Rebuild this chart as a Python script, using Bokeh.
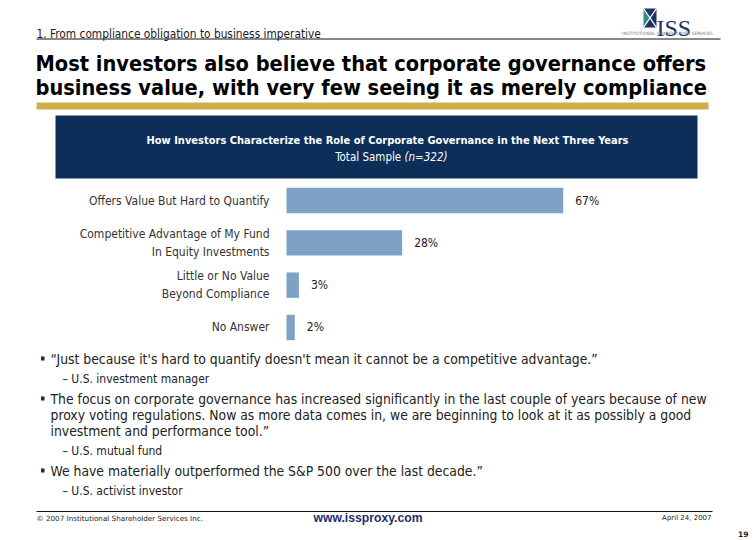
from bokeh.plotting import figure
from bokeh.models import Range1d, ColumnDataSource, Label
from bokeh.core.properties import value
from bokeh.embed import file_html
from bokeh.resources import INLINE

# ---------------- data ----------------
categories = [
    "Offers Value But Hard to Quantify",
    "Competitive Advantage of My Fund\nIn Equity Investments",
    "Little or No Value\nBeyond Compliance",
    "No Answer",
]
shares = [67, 28, 3, 2]
share_labels = ["67%", "28%", "3%", "2%"]

section_title = "1. From compliance obligation to business imperative"
headline = ["Most investors also believe that corporate governance offers",
            "business value, with very few seeing it as merely compliance"]
chart_title = "How Investors Characterize the Role of Corporate Governance in the Next Three Years"
sample_text = "Total Sample "
sample_n = "(n=322)"

quotes = [
    ["\u201cJust because it's hard to quantify doesn't mean it cannot be a competitive advantage.\u201d"],
    ["The focus on corporate governance has increased significantly in the last couple of years because of new",
     "proxy voting regulations. Now as more data comes in, we are beginning to look at it as possibly a good",
     "investment and performance tool.\u201d"],
    ["We have materially outperformed the S&P 500 over the last decade.\u201d"],
]
sources = ["\u2013 U.S. investment manager", "\u2013 U.S. mutual fund", "\u2013 U.S. activist investor"]

footer_left = "\u00a9 2007 Institutional Shareholder Services Inc."
footer_mid = "www.issproxy.com"
footer_right = "April 24, 2007"
page_no = "19"

# ---------------- style ----------------
NAVY = "#0c2e58"
BAR = "#7ea1c6"
GOLD = "#cdb04b"
TEAL = "#2f8c88"
LOGO = "#1d3466"
COND = "'DejaVu Sans Condensed', 'DejaVu Sans', sans-serif"

W, H = 750, 538
p = figure(width=W, height=H, x_range=Range1d(0, W), y_range=Range1d(H, 0),
           output_backend="svg", toolbar_location=None, min_border=0)
p.axis.visible = False
p.grid.visible = False
p.outline_line_color = None
p.background_fill_color = "white"

# scales for the bar chart
PX = 4.13      # pixels per percentage point
X0 = 286       # pixel position of 0%
ROW0, ROWSTEP = 200, 42.33
p.extra_x_ranges = {"pct": Range1d(start=-X0 / PX, end=(W - X0) / PX)}
p.extra_y_ranges = {"row": Range1d(start=(H - ROW0) / ROWSTEP, end=(0 - ROW0) / ROWSTEP)}

rows = list(range(len(categories)))
src = ColumnDataSource(dict(row=rows, share=shares, cat=categories, lab=share_labels))

# ---------- header of slide ----------
p.add_layout(Label(x=36, y=33, text=section_title, text_font=COND, text_font_size="11.8px",
                   text_color="#1a1a1a", text_baseline="alphabetic"))
p.segment(x0=36, y0=38.5, x1=720, y1=38.5, line_color="#111111", line_width=1)

for i, line in enumerate(headline):
    p.add_layout(Label(x=35, y=63 + 24 * i, text=line, text_font=COND, text_font_style="bold",
                       text_font_size="21.6px", text_color="#000000", text_baseline="alphabetic"))
p.quad(left=36, right=708, top=102, bottom=109, color=GOLD, line_color=None)

# logo
p.patches(xs=[[643, 656, 649.5], [643, 656, 649.5], [643, 643, 649.5], [656, 656, 649.5]],
          ys=[[8, 8, 17.5], [27, 27, 17.5], [8, 27, 17.5], [8, 27, 17.5]],
          fill_color=[LOGO, LOGO, TEAL, LOGO], line_color=None)
p.segment(x0=[643, 643], y0=[8, 27], x1=[656, 656], y1=[27, 8], line_color="white", line_width=1.3)
p.add_layout(Label(x=656, y=27, text="ISS", text_font="Liberation Serif", text_font_size="24px",
                   text_color=LOGO, text_baseline="alphabetic"))
p.add_layout(Label(x=667, y=33, text="INSTITUTIONAL SHAREHOLDER SERVICES", text_font="DejaVu Sans",
                   text_font_size="4.4px", text_color="#777777", text_align="center", text_baseline="middle"))

# ---------- chart ----------
p.quad(left=55, right=697, top=115, bottom=178, color=NAVY, line_color=None)
p.add_layout(Label(x=387, y=140, text=chart_title, text_font=COND, text_font_style="bold",
                   text_font_size="11px", text_color="white", text_align="center", text_baseline="middle"))
p.add_layout(Label(x=404, y=156, text=sample_text, text_font=COND,
                   text_font_size="11.5px", text_color="white", text_align="right", text_baseline="middle"))
p.add_layout(Label(x=404, y=156, text=sample_n, text_font=COND, text_font_style="italic",
                   text_font_size="11.5px", text_color="white", text_align="left", text_baseline="middle"))

p.hbar(y="row", left=0, right="share", height=0.6, source=src, x_range_name="pct", y_range_name="row",
       fill_color=BAR, line_color=None)
p.text(x="share", y="row", text="lab", source=src, x_range_name="pct", y_range_name="row",
       x_offset=12, text_font=value(COND), text_font_size="12px", text_color="#222222",
       text_baseline="middle", text_align="left")
p.text(x=269, y="row", text="cat", source=src, y_range_name="row",
       text_font=value(COND), text_font_size="12px", text_color="#333333", text_line_height=1.3,
       text_baseline="middle", text_align="right")

# ---------- quotes ----------
y = 358
for i, q in enumerate(quotes):
    p.quad(left=40.5, right=44, top=y - 2, bottom=y + 2, color="#1a2a4a", line_color=None)
    for line in q:
        p.add_layout(Label(x=50, y=y, text=line, text_font=COND, text_font_size="13.8px",
                           text_color="#222222", text_baseline="middle"))
        y += 16
    y += 4
    p.add_layout(Label(x=62, y=y, text=sources[i], text_font=COND, text_font_size="12px",
                       text_color="#222222", text_baseline="middle"))
    y += 20

# ---------- footer ----------
p.segment(x0=36, y0=511, x1=712, y1=511, line_color="#111111", line_width=1)
p.add_layout(Label(x=36, y=518, text=footer_left, text_font="DejaVu Sans", text_font_size="7.2px",
                   text_color="#222222", text_baseline="middle"))
p.add_layout(Label(x=313, y=517, text=footer_mid, text_font="Liberation Sans", text_font_style="bold",
                   text_font_size="12.2px", text_color="#1f2c6e", text_baseline="middle"))
p.add_layout(Label(x=711, y=517, text=footer_right, text_font="DejaVu Sans", text_font_size="7px",
                   text_color="#222222", text_align="right", text_baseline="middle"))
p.add_layout(Label(x=748, y=533, text=page_no, text_font="DejaVu Sans", text_font_style="bold",
                   text_font_size="7.5px", text_color="#222222", text_align="right", text_baseline="middle"))

open("out.html", "w").write(file_html(p, INLINE))
